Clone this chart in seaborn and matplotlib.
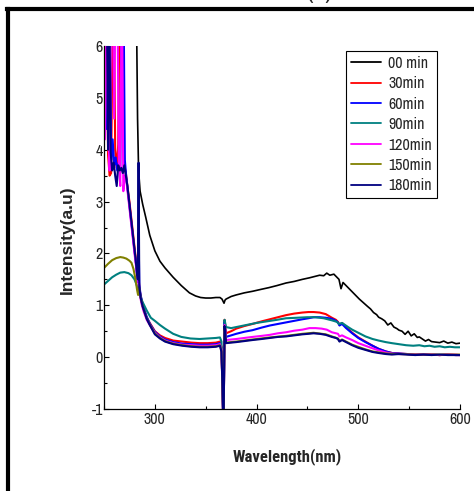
import matplotlib
matplotlib.use("Agg")
import matplotlib.pyplot as plt
from matplotlib.lines import Line2D
from matplotlib.ticker import MultipleLocator
import seaborn as sns

# ---------------- spectra (wavelength in nm, intensity in a.u.) ----------------
series_labels = ["00 min", "30min", "60min", "90min", "120min", "150min", "180min"]
series_colors = ["#000000", "#ff0000", "#0000ff", "#008080", "#ff00ff", "#808000", "#000080"]

wl_00 = [281.5, 282.0, 283.0, 284.0, 285.5, 288, 291, 295, 300, 305, 310, 318, 326, 334,
         340, 345, 350, 355, 360, 364, 366, 368, 369, 370, 375, 380, 388, 396, 405, 412,
         420, 429, 437, 445, 452, 458, 462, 466, 469, 472, 476, 479, 481, 483, 485, 488,
         492, 496, 501, 505, 509, 512, 515, 518, 520, 523, 526, 529, 532, 535, 538, 540,
         543, 546, 549, 552, 555, 558, 560, 563, 566, 569, 572, 576, 580, 584, 588, 592,
         596, 600]
int_00 = [7.5, 6.5, 4.6, 3.6, 3.2, 2.95, 2.7, 2.35, 2.05, 1.85, 1.72, 1.54, 1.38, 1.24,
          1.18, 1.15, 1.14, 1.14, 1.15, 1.15, 1.12, 1.04, 1.1, 1.12, 1.17, 1.2, 1.24, 1.27,
          1.31, 1.34, 1.38, 1.43, 1.46, 1.5, 1.53, 1.56, 1.58, 1.57, 1.62, 1.58, 1.6, 1.54,
          1.5, 1.32, 1.44, 1.38, 1.3, 1.22, 1.12, 1.05, 0.98, 0.93, 0.86, 0.82, 0.77, 0.74,
          0.7, 0.62, 0.66, 0.58, 0.55, 0.52, 0.5, 0.44, 0.5, 0.41, 0.45, 0.38, 0.39, 0.35,
          0.31, 0.34, 0.3, 0.29, 0.28, 0.31, 0.27, 0.29, 0.26, 0.27]

wl_30 = [251.5, 253, 254, 255.5, 257, 258, 259.5, 261, 262.5, 264, 265.5, 267, 268.5, 270,
         271.5, 273, 275, 277, 279, 281, 282.5, 283.5, 285, 287, 289, 292, 295, 300, 305,
         310, 318, 327, 336, 344, 352, 360, 364, 365.5, 366.5, 367.5, 368.5, 370, 375, 380,
         388, 396, 405, 413, 421, 429, 437, 445, 451, 456, 462, 468, 474, 478, 480, 481.5,
         484, 488, 494, 500, 507, 514, 520, 527, 533, 540, 548, 556, 564, 572, 580, 588,
         596, 600]
int_30 = [7.5, 6.0, 3.9, 3.5, 3.55, 5.5, 7.5, 4.0, 3.65, 4.1, 7.5, 7.5, 4.6, 3.7,
          3.55, 3.3, 3.0, 2.65, 2.3, 1.95, 1.7, 1.65, 1.3, 1.08, 0.92, 0.76, 0.66, 0.5, 0.42,
          0.37, 0.32, 0.3, 0.28, 0.27, 0.27, 0.28, 0.3, 0.2, -0.6, -1.5, 0.72, 0.46, 0.5,
          0.55, 0.6, 0.64, 0.69, 0.73, 0.77, 0.81, 0.84, 0.86, 0.87, 0.87, 0.86, 0.83, 0.76,
          0.72, 0.68, 0.62, 0.66, 0.58, 0.47, 0.38, 0.3, 0.22, 0.16, 0.11, 0.08, 0.07, 0.06,
          0.05, 0.05, 0.05, 0.04, 0.05, 0.04, 0.04]

wl_60 = [251, 252.5, 254, 255.5, 257, 258.5, 260, 261.5, 263, 264.5, 266, 267.5, 269, 270.5,
         272, 274, 276, 278, 280, 281.5, 282.5, 283.3, 284, 284.7, 286, 288, 292, 295, 300,
         305, 310, 318, 327, 336, 344, 352, 360, 364, 365.5, 366.5, 367.5, 368.5, 370, 375,
         380, 388, 396, 405, 413, 421, 429, 437, 445, 451, 456, 462, 468, 474, 478, 480,
         481.5, 484, 488, 494, 500, 507, 514, 520, 527, 533, 540, 548, 556, 564, 572, 580,
         588, 596, 600]
int_60 = [7.5, 4.4, 7.5, 7.5, 3.8, 4.2, 3.7, 3.85, 3.6, 3.75, 3.65, 7.5, 7.5, 3.8,
          3.45, 3.1, 2.75, 2.4, 2.05, 1.8, 1.6, 1.45, 2.4, 1.4, 1.2, 1.02, 0.78, 0.65, 0.49,
          0.4, 0.34, 0.29, 0.26, 0.25, 0.24, 0.24, 0.25, 0.27, 0.18, -0.6, -1.5, 0.68, 0.39,
          0.42, 0.45, 0.49, 0.52, 0.57, 0.61, 0.64, 0.67, 0.7, 0.73, 0.75, 0.77, 0.77, 0.76,
          0.74, 0.7, 0.67, 0.61, 0.64, 0.56, 0.46, 0.37, 0.29, 0.22, 0.16, 0.11, 0.08, 0.07,
          0.06, 0.05, 0.05, 0.05, 0.04, 0.05, 0.04, 0.04]

wl_90 = [250, 254, 258, 262, 266, 270, 274, 277, 280, 282, 283.5, 285, 288, 292, 296, 300,
         305, 310, 318, 326, 335, 344, 352, 360, 364, 365.5, 366.5, 367.5, 368.5, 370, 375,
         380, 390, 400, 410, 420, 429, 440, 450, 458, 466, 474, 479, 481, 484, 490, 494, 500,
         507, 514, 520, 527, 533, 540, 547, 554, 560, 565, 570, 575, 580, 585, 590, 595, 600]
int_90 = [1.4, 1.47, 1.54, 1.59, 1.63, 1.64, 1.62, 1.58, 1.5, 1.4, 1.3, 1.2, 1.06, 0.9,
          0.76, 0.7, 0.62, 0.55, 0.45, 0.39, 0.36, 0.35, 0.36, 0.37, 0.38, 0.3, -0.5, -1.5,
          0.72, 0.58, 0.56, 0.58, 0.62, 0.66, 0.69, 0.72, 0.75, 0.76, 0.77, 0.77, 0.75, 0.71,
          0.68, 0.64, 0.66, 0.58, 0.53, 0.47, 0.4, 0.35, 0.32, 0.29, 0.27, 0.25, 0.23, 0.22,
          0.23, 0.21, 0.22, 0.2, 0.21, 0.19, 0.2, 0.19, 0.19]

wl_120 = [251, 252.5, 254, 255.5, 257, 258.5, 260, 261.5, 263, 264.5, 266, 267.5, 269, 270.5,
          272, 274, 276, 278, 280, 281.5, 282.5, 283.5, 285, 287, 289, 292, 295, 300, 305,
          310, 318, 327, 336, 344, 352, 360, 364, 365.5, 366.5, 367.5, 368.5, 370, 375, 380,
          388, 396, 405, 413, 421, 429, 437, 445, 452, 458, 464, 469, 474, 478, 480, 481.5,
          484, 488, 494, 500, 507, 514, 520, 527, 533, 540, 548, 556, 564, 572, 580, 588,
          596, 600]
int_120 = [4.2, 7.5, 4.5, 3.6, 7.5, 7.5, 4.6, 7.5, 7.5, 3.8, 3.3, 7.5, 3.2, 3.5,
           3.4, 3.05, 2.7, 2.35, 2.0, 1.75, 1.55, 1.5, 1.22, 1.02, 0.88, 0.72, 0.62, 0.47,
           0.38, 0.32, 0.27, 0.24, 0.23, 0.22, 0.22, 0.23, 0.25, 0.15, -0.6, -1.5, 0.62, 0.33,
           0.34, 0.35, 0.37, 0.39, 0.41, 0.43, 0.46, 0.48, 0.51, 0.53, 0.56, 0.56, 0.55, 0.53,
           0.48, 0.46, 0.45, 0.4, 0.42, 0.38, 0.33, 0.27, 0.22, 0.17, 0.13, 0.09, 0.07, 0.06,
           0.06, 0.05, 0.05, 0.05, 0.04, 0.05, 0.05, 0.04]

wl_150 = [250, 254, 258, 262, 266, 269, 272, 275, 277, 279, 281, 282.5, 283.5, 284.5, 286,
          288, 292, 295, 300, 305, 310, 318, 327, 336, 344, 352, 360, 364, 365.5, 366.5,
          367.5, 368.5, 370, 380, 396, 413, 429, 445, 456, 468, 474, 480, 481.5, 484, 494,
          507, 514, 527, 540, 556, 572, 588, 600]
int_150 = [1.72, 1.8, 1.87, 1.91, 1.93, 1.92, 1.9, 1.86, 1.82, 1.7, 1.5, 1.3, 1.2, 1.35,
           1.15, 0.98, 0.75, 0.63, 0.46, 0.37, 0.31, 0.26, 0.23, 0.21, 0.2, 0.2, 0.21, 0.23,
           0.12, -0.6, -1.5, 0.6, 0.28, 0.3, 0.34, 0.38, 0.41, 0.45, 0.47, 0.44, 0.4, 0.36,
           0.31, 0.34, 0.24, 0.15, 0.11, 0.07, 0.06, 0.05, 0.05, 0.05, 0.05]

wl_180 = [251, 252.5, 254, 255, 256.5, 258, 259.5, 261, 262.5, 264, 265.5, 267, 268.5, 270,
          271.5, 273, 275, 277, 279, 281, 282.5, 283.3, 284, 284.7, 286, 288, 292, 295, 300,
          305, 310, 318, 327, 336, 344, 352, 360, 364, 365.5, 366.5, 367.5, 368.5, 370, 375,
          380, 388, 396, 405, 413, 421, 429, 437, 445, 451, 456, 462, 468, 474, 478, 480,
          481.5, 484, 488, 494, 500, 507, 514, 520, 527, 533, 540, 548, 556, 564, 572, 580,
          588, 596, 600]
int_180 = [7.5, 7.5, 4.0, 7.5, 3.95, 3.6, 3.75, 3.5, 3.3, 3.7, 3.6, 3.65, 3.55, 3.7,
           3.5, 3.3, 2.95, 2.6, 2.25, 1.9, 1.6, 1.5, 3.75, 1.35, 1.15, 0.98, 0.74, 0.62, 0.44,
           0.36, 0.3, 0.25, 0.22, 0.2, 0.19, 0.19, 0.2, 0.22, 0.1, -0.6, -1.5, 0.6, 0.27,
           0.28, 0.29, 0.31, 0.33, 0.35, 0.37, 0.39, 0.4, 0.42, 0.44, 0.45, 0.46, 0.45, 0.43,
           0.39, 0.37, 0.35, 0.3, 0.33, 0.29, 0.23, 0.18, 0.14, 0.1, 0.08, 0.06, 0.05, 0.06,
           0.05, 0.04, 0.05, 0.04, 0.05, 0.04, 0.04, 0.04]

x_ticks = [300, 400, 500, 600]
y_ticks = [-1, 0, 1, 2, 3, 4, 5, 6]

# ---------------- figure ----------------
sns.set_style("ticks")
plt.rcParams["font.family"] = ["Archivo Narrow", "Liberation Sans", "DejaVu Sans"]
plt.rcParams["axes.unicode_minus"] = False
bold_narrow = ["Roboto Condensed", "IBM Plex Sans Condensed", "Liberation Sans", "DejaVu Sans"]

fig = plt.figure(figsize=(4.74, 4.91), dpi=100)
ax = fig.add_axes([0.2194, 0.167, 0.7511, 0.7393])

spectra = [(wl_00, int_00), (wl_30, int_30), (wl_60, int_60), (wl_90, int_90),
           (wl_120, int_120), (wl_150, int_150), (wl_180, int_180)]
for (wl, vals), lab, col in zip(spectra, series_labels, series_colors):
    lw = 1.2 if col == "#000000" else 1.5
    sns.lineplot(x=wl, y=vals, color=col, linewidth=lw, label=lab, ax=ax,
                 estimator=None, sort=False, legend=False)

ax.set_xlim(250, 600)
ax.set_ylim(-1, 6)
ax.set_xticks(x_ticks)
ax.set_yticks(y_ticks)
ax.xaxis.set_minor_locator(MultipleLocator(50))
ax.yaxis.set_minor_locator(MultipleLocator(0.5))
ax.tick_params(which="both", direction="in", color="black", width=0.8)
ax.tick_params(which="major", length=3.5)
ax.tick_params(which="minor", length=2.5)
ax.tick_params(axis="x", which="major", pad=2.5, labelsize=11.5)
ax.tick_params(axis="y", which="major", pad=0.8, labelsize=11.5)
for side in ("top", "right"):
    ax.spines[side].set_visible(False)
for side in ("left", "bottom"):
    ax.spines[side].set_linewidth(0.9)
    ax.spines[side].set_color("black")

ax.set_xlabel("Wavelength(nm)", fontsize=12, fontweight="bold", family=bold_narrow)
ax.xaxis.set_label_coords(0.514, -0.132)
ax.xaxis.label.set_verticalalignment("center")
ax.set_ylabel("Intensity(a.u)", fontsize=12.5, fontweight="bold", family="Liberation Sans")
ax.yaxis.set_label_coords(-0.104, 0.466)
ax.yaxis.label.set_verticalalignment("center")

handles = [Line2D([], [], color=c, linewidth=1.3) for c in series_colors]
ax.legend(handles, series_labels, loc="upper right",
          bbox_to_anchor=(437 / 474, 1 - 51 / 491), bbox_transform=fig.transFigure,
          borderaxespad=0, frameon=True, fancybox=False, framealpha=1,
          edgecolor="black", fontsize=11.5, handlelength=1.9, handletextpad=0.45,
          labelspacing=0.34, borderpad=0.3)
ax.get_legend().get_frame().set_linewidth(0.8)

# panel frame and caption
fig.add_artist(Line2D([7 / 474, 1.0], [1 - 8.8 / 491, 1 - 8.8 / 491],
                      transform=fig.transFigure, color="black", linewidth=3,
                      solid_capstyle="projecting"))
fig.add_artist(Line2D([8 / 474, 8 / 474], [0.0, 1 - 8.8 / 491],
                      transform=fig.transFigure, color="black", linewidth=3,
                      solid_capstyle="projecting"))
fig.text(320 / 474, 1 + 2 / 491, "(b)", ha="center", va="baseline", fontsize=20)

fig.savefig("out.png", dpi=100)
